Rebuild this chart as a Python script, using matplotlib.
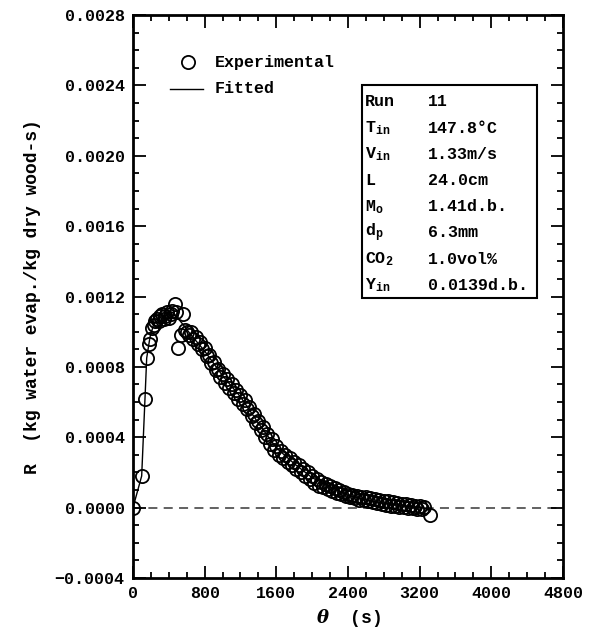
import matplotlib
matplotlib.use('Agg')
import matplotlib.pyplot as plt
from matplotlib.ticker import MultipleLocator, FuncFormatter

plt.rcParams['font.family'] = ['Liberation Mono', 'DejaVu Sans Mono']
plt.rcParams['font.weight'] = 'bold'
plt.rcParams['axes.labelweight'] = 'bold'
plt.rcParams['mathtext.fontset'] = 'custom'
plt.rcParams['mathtext.rm'] = 'Liberation Mono:bold'
plt.rcParams['mathtext.bf'] = 'Liberation Mono:bold'
plt.rcParams['mathtext.it'] = 'DejaVu Serif:italic:bold'

# experimental points (theta in s, R in kg water / kg dry wood-s)
theta_exp = [0, 97, 134, 153, 175, 190, 208, 230, 250, 264, 285, 300, 320, 345, 360,
             380, 400, 420, 440, 469, 480, 506, 540, 562, 580,
             600, 625, 650, 675, 700, 725, 750, 775,
             800, 825, 850, 875, 900, 925, 950, 975,
             1000, 1025, 1050, 1075, 1100, 1125, 1150, 1175,
             1200, 1225, 1250, 1275, 1300, 1325, 1350, 1375,
             1400, 1425, 1450, 1475, 1500, 1525, 1550, 1575,
             1600, 1625, 1650, 1675, 1700, 1725, 1750, 1775,
             1800, 1825, 1850, 1875, 1900, 1925, 1950, 1975,
             2000, 2025, 2050, 2075, 2100, 2125, 2150, 2175,
             2200, 2225, 2250, 2275, 2300, 2325, 2350, 2375,
             2400, 2425, 2450, 2475, 2500, 2525, 2550, 2575,
             2600, 2625, 2650, 2675, 2700, 2725, 2750, 2775,
             2800, 2825, 2850, 2875, 2900, 2925, 2950, 2975,
             3000, 3025, 3050, 3075, 3100, 3125, 3150, 3175,
             3200, 3225, 3250, 3315]
R_exp = [0.0, 0.00018, 0.00062, 0.00085, 0.00093, 0.00096, 0.00102, 0.00104, 0.00106,
         0.00107, 0.00106, 0.00109, 0.00110, 0.00107, 0.00109, 0.00111, 0.00108,
         0.00110, 0.00112, 0.00116, 0.00111, 0.00091, 0.00098, 0.00110, 0.00101,
         0.00100, 0.00098, 0.00100, 0.00096, 0.00097, 0.00093, 0.00094, 0.00090,
         0.00091, 0.00086, 0.00087, 0.00082, 0.00083, 0.00078, 0.00079, 0.00074,
         0.00076, 0.00071, 0.00073, 0.00068, 0.00070, 0.00065, 0.00067, 0.00062,
         0.00064, 0.00059, 0.00061, 0.00056, 0.00057, 0.00052, 0.00053, 0.00048,
         0.00049, 0.00044, 0.00046, 0.00040, 0.00042, 0.00036, 0.00039, 0.00033,
         0.00035, 0.00030, 0.00032, 0.00028, 0.00030, 0.00026, 0.00028, 0.00024,
         0.00026, 0.00022, 0.00024, 0.00020, 0.00022, 0.00018, 0.00020, 0.00016,
         0.00018, 0.00014, 0.00016, 0.000125, 0.000145, 0.000115, 0.000135, 0.000105,
         0.000125, 0.000095, 0.000110, 0.000085, 0.000100, 0.000075, 0.000090, 0.000065,
         0.000080, 0.000058, 0.000072, 0.000052, 0.000066, 0.000046, 0.000062, 0.000042,
         0.000058, 0.000036, 0.000052, 0.000030, 0.000047, 0.000026, 0.000044, 0.000020,
         0.000040, 0.000016, 0.000035, 0.000012, 0.000030, 0.000008, 0.000025, 0.000004,
         0.000022, 0.000002, 0.000018, -0.000002, 0.000015, -0.000004, 0.000012, -0.000006,
         0.000008, -0.000008, 0.000004, -0.00004]

# fitted model curve
theta_fit = [0, 97, 134, 153, 190, 230, 300, 400, 480, 560, 650, 800, 1000, 1200,
             1400, 1600, 1800, 2000, 2200, 2400, 2600, 2800, 3000, 3200, 3315]
R_fit = [0.0, 0.00018, 0.00062, 0.00085, 0.00097, 0.00104, 0.00108, 0.00110, 0.00109,
         0.00104, 0.00098, 0.00089, 0.00075, 0.00063, 0.00048, 0.00034, 0.00025,
         0.00017, 0.00012, 0.00007, 0.000045, 0.000025, 0.000012, 0.000002, -0.00001]

run_labels = ['Run', 'T$_{\\rm in}$', 'V$_{\\rm in}$', 'L', 'M$_{\\rm o}$',
              'd$_{\\rm p}$', 'CO$_{\\rm 2}$', 'Y$_{\\rm in}$']
run_values = ['11', '147.8°C', '1.33m/s', '24.0cm', '1.41d.b.', '6.3mm',
              '1.0vol%', '0.0139d.b.']

fig = plt.figure(figsize=(5.9, 6.3), dpi=100)
ax = fig.add_axes([0.2254, 0.0825, 0.7288, 0.8937])

ax.axhline(0, color='#555555', lw=1.3, ls=(0, (5, 3.5)), zorder=1)
ax.plot(theta_fit, R_fit, color='black', lw=1.0, zorder=2)
ax.plot(theta_exp, R_exp, 'o', mfc='none', mec='black', ms=9.5, mew=1.3, zorder=3)

ax.set_xlim(0, 4800)
ax.set_ylim(-0.0004, 0.0028)
ax.xaxis.set_major_locator(MultipleLocator(800))
ax.xaxis.set_minor_locator(MultipleLocator(200))
ax.yaxis.set_major_locator(MultipleLocator(0.0004))
ax.yaxis.set_minor_locator(MultipleLocator(0.0001))
ax.yaxis.set_major_formatter(FuncFormatter(lambda v, p: ('%.4f' % v).replace('-', '\u2212')))
ax.tick_params(which='both', direction='in', top=True, right=True, width=1.3,
               labelsize=12)
ax.tick_params(which='major', length=9, pad=6)
ax.tick_params(which='minor', length=4.5)
for s in ax.spines.values():
    s.set_linewidth(2.0)

ax.set_xlabel('$\\it{\\theta}$  (s)', fontsize=13, labelpad=4)
ax.set_ylabel('R  (kg water evap./kg dry wood-s)', fontsize=13, labelpad=10)

# legend drawn by hand
ax.plot([0.128], [0.9165], 'o', mfc='none', mec='black', ms=9.5, mew=1.3,
        transform=ax.transAxes)
ax.text(0.19, 0.9165, 'Experimental', transform=ax.transAxes, fontsize=12,
        va='center', ha='left')
ax.plot([0.086, 0.163], [0.8686, 0.8686], color='black', lw=1.0,
        transform=ax.transAxes)
ax.text(0.19, 0.8686, 'Fitted', transform=ax.transAxes, fontsize=12,
        va='center', ha='left')

# run condition box
box = plt.Rectangle((0.5326, 0.4973), 0.4069, 0.3784, transform=ax.transAxes,
                    fill=False, lw=1.5, ec='black')
ax.add_patch(box)
for i, (lab, val) in enumerate(zip(run_labels, run_values)):
    yy = 0.8455 - i * 0.0465
    ax.text(0.5395, yy, lab, transform=ax.transAxes, fontsize=12, va='center')
    ax.text(0.686, yy, val, transform=ax.transAxes, fontsize=12, va='center')

plt.savefig('out.png', dpi=100)
